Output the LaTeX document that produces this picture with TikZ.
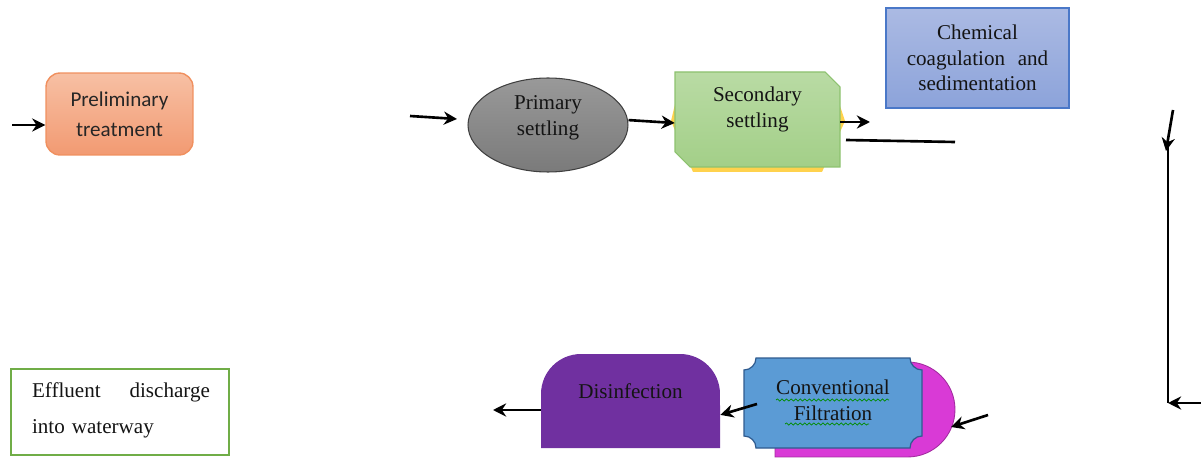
\documentclass[tikz,border=0pt]{standalone}
\usepackage{fontspec}
\setmainfont{Liberation Serif}
\newfontfamily\calibri{Carlito}
\usetikzlibrary{shapes.geometric,shapes.misc,arrows.meta,decorations.pathmorphing}
\definecolor{pretop}{HTML}{F7C0A4}
\definecolor{prebot}{HTML}{F29A72}
\definecolor{preborder}{HTML}{F0905F}
\definecolor{sectop}{HTML}{B9DBA4}
\definecolor{secbot}{HTML}{A3CF88}
\definecolor{secborder}{HTML}{8DC26F}
\definecolor{secyellow}{HTML}{FFD24D}
\definecolor{chemtop}{HTML}{ABBAE3}
\definecolor{chembot}{HTML}{8CA3DA}
\definecolor{chemborder}{HTML}{4A78C8}
\definecolor{magfill}{HTML}{D93AD6}
\definecolor{filtfill}{HTML}{5B9BD5}
\definecolor{filtborder}{HTML}{2F5B8F}
\definecolor{disfill}{HTML}{7030A0}
\definecolor{effgreen}{HTML}{70AD47}
\tikzset{
  arr/.style={line width=1.5pt,-{Stealth[length=7.5pt,width=7.5pt]}},
  plain/.style={line width=1.5pt},
  txt/.style={font=\fontsize{12}{14.6}\selectfont, text=black!92, align=center},
  squig/.style={green!55!black, line width=0.4pt, decorate,
    decoration={snake,amplitude=0.6pt,segment length=2.6pt}}
}
\begin{document}
\begin{tikzpicture}[x=0.02cm,y=0.02cm]
  \useasboundingbox (0,0) rectangle (1201,457);
  % top row
  \node[draw=preborder, line width=0.8pt, rounded corners=0.28cm, top color=pretop, bottom color=prebot,
        minimum width=2.94cm, minimum height=1.64cm, inner sep=0pt, text=black!85,
        font=\calibri\fontsize{12}{17}\selectfont, align=center] (pre) at (119.5,343) {Preliminary\\treatment};
  \node[ellipse, draw=black!75, line width=0.6pt, top color=black!40, bottom color=black!52,
        minimum width=3.2cm, minimum height=1.88cm, inner sep=0pt] (prim) at (548,332) {};
  \node[txt] (primtext) at ([yshift=4pt]prim.center) {Primary\\settling};
  \fill[secyellow] (671,336) -- (676,357) -- (838,357) -- (845,336) -- (822,285) -- (693,285) -- cycle;
  \node[minimum width=3.3cm, minimum height=1.9cm, inner sep=0pt] (sec) at (757.5,337.5) {};
  \draw[secborder, line width=0.6pt, top color=sectop, bottom color=secbot]
    (675,385) -- (825,385) -- (840,370) -- (840,290) -- (690,290) -- (675,305) -- cycle;
  \node[txt] (sectext) at ([yshift=5.7pt]sec.center) {Secondary\\settling};
  \node[txt, draw=chemborder, line width=0.8pt, top color=chemtop, bottom color=chembot,
        minimum width=3.66cm, minimum height=2cm, inner sep=0pt] (chem) at (977.5,399)
        {Chemical\\coagulation\hspace{0.6em}and\\sedimentation};
  % bottom row
  \node[rounded rectangle, rounded rectangle left arc=none, fill=magfill, draw=magfill!75!black,
        line width=0.5pt, minimum width=3.6cm, minimum height=1.9cm, inner sep=0pt] (mag) at (865,47.5) {};
  \node[minimum width=3.56cm, minimum height=1.8cm, inner sep=0pt] (filt) at (833,54) {};
  \filldraw[fill=filtfill, draw=filtborder, line width=0.7pt]
    (756,99) -- (910,99) arc[start angle=180, end angle=270, radius=0.24cm]
    -- (922,21) arc[start angle=90, end angle=180, radius=0.24cm]
    -- (756,9) arc[start angle=0, end angle=90, radius=0.24cm]
    -- (744,87) arc[start angle=270, end angle=360, radius=0.24cm] -- cycle;
  \node[txt] (filttext) at ([yshift=1.7pt]filt.center) {Conventional\\Filtration};
  \draw[squig] (776,57) -- (889,57);
  \draw[squig] (785,33) -- (869,33);
  \node[minimum width=3.58cm, minimum height=1.88cm, inner sep=0pt] (dis) at (630.5,56) {};
  \fill[disfill] (541,9) -- (541,63) arc[start angle=180, end angle=90, radius=0.8cm]
    -- (680,103) arc[start angle=90, end angle=0, radius=0.8cm] -- (720,9) -- cycle;
  \node[txt] (distext) at ([yshift=5.7pt]dis.center) {Disinfection};
  \node[draw=effgreen, line width=0.8pt, fill=white, minimum width=4.36cm, minimum height=1.72cm,
        inner sep=0pt] (eff) at (120,45) {};
  \node[txt, text width=3.56cm, align=left] (efftext) at (121,47)
        {Effluent\hspace{0pt plus 1fill}discharge\\[6pt]into waterway};
  % connectors
  \coordinate (in1) at (12,332);
  \draw[arr] (in1) -- (pre.west |- in1); % in--pre
  \coordinate (a2s) at (410,341);
  \coordinate (a2e) at (457,338);
  \draw[arr] (a2s) -- (a2e); % --prim
  \draw[arr] ([yshift=2.8pt]prim.east) -- ([yshift=-2pt]sec.west); % prim--sec
  \coordinate (a4e) at (870,335);
  \draw[arr] (sec.east |- a4e) -- (a4e); % sec--
  \coordinate (l1) at (846,317);
  \coordinate (l2) at (955,315);
  \draw[plain] (l1) -- (l2);
  \coordinate (a5s) at (1173,347);
  \coordinate (a5e) at (1166,306);
  \draw[arr] (a5s) -- (a5e);
  \coordinate (v1) at (1168,318);
  \coordinate (corner) at (1168,54);
  \draw[plain] (v1) -- (corner);
  \coordinate (r1) at (1201,54);
  \draw[arr] (r1) -- (corner); % --corner
  \coordinate (a6s) at (988,42);
  \coordinate (a6e) at (951,30);
  \draw[arr] (a6s) -- (a6e); % --mag
  \coordinate (a7s) at (757,53);
  \draw[arr] (a7s) -- ([yshift=-7.9pt]dis.east); % filt--dis
  \coordinate (out) at (493,47);
  \draw[arr] (dis.west |- out) -- (out); % dis--out
\end{tikzpicture}
\end{document}
